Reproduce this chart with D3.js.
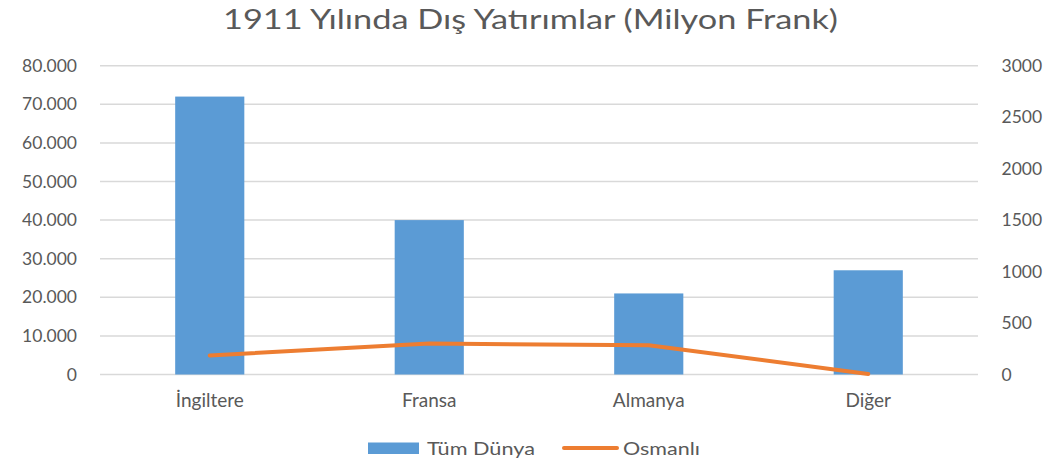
<!DOCTYPE html>
<html><head><meta charset="utf-8">
<script src="https://cdn.jsdelivr.net/npm/d3@7"></script>
<style>body{margin:0;background:#fff}svg{display:block}text{font-family:Lato,"Liberation Sans",sans-serif;fill:#595959}</style>
</head><body><svg id="c" width="1057" height="464"></svg>
<script>
const categories = ["İngiltere","Fransa","Almanya","Diğer"];
const tumDunya = [72000, 40000, 21000, 27000];
const osmanli = [185, 300, 285, 5];
const leftTicks = [0,10000,20000,30000,40000,50000,60000,70000,80000];
const rightTicks = [0,500,1000,1500,2000,2500,3000];
const title = "1911 Yılında Dış Yatırımlar (Milyon Frank)";
const seriesNames = ["Tüm Dünya","Osmanlı"];

const svg = d3.select("#c");
const L = 100, R = 978, T = 65.7, B = 374.5;
const x = d3.scaleBand().domain(categories).range([L,R]).padding(0);
const yL = d3.scaleLinear().domain([0,80000]).range([B,T]);
const yR = d3.scaleLinear().domain([0,3000]).range([B,T]);
const fmtL = d => d===0 ? "0" : d3.format(",")(d).replace(/,/g,".");
const fmtR = d3.format("d");

svg.append("text").attr("x",223).attr("y",28.5)
  .attr("textLength",615).attr("lengthAdjust","spacingAndGlyphs")
  .style("font-size","26px").text(title);

// grid
svg.append("g").selectAll("line").data(leftTicks).join("line")
  .attr("x1",L).attr("x2",R).attr("y1",d=>yL(d)).attr("y2",d=>yL(d))
  .attr("stroke","#d9d9d9").attr("stroke-width",1.5);

// axes
const gl = svg.append("g").attr("transform",`translate(${L},0)`)
  .call(d3.axisLeft(yL).tickValues(leftTicks).tickFormat(fmtL).tickSize(0).tickPadding(23));
gl.select(".domain").remove();
gl.selectAll("text").style("font-size","17.5px").attr("fill","#595959");

const gr = svg.append("g").attr("transform",`translate(${R},0)`)
  .call(d3.axisRight(yR).tickValues(rightTicks).tickFormat(fmtR).tickSize(0).tickPadding(23.5));
gr.select(".domain").remove();
gr.selectAll("text").style("font-size","17.5px").attr("fill","#595959");

// bars
const bw = x.bandwidth()*0.315;
svg.append("g").selectAll("rect").data(tumDunya).join("rect")
  .attr("x",(d,i)=>x(categories[i])+x.bandwidth()/2-bw/2)
  .attr("width",bw).attr("y",d=>yL(d)).attr("height",d=>B-yL(d))
  .attr("fill","#5b9bd5");

// line
const line = d3.line().x((d,i)=>x(categories[i])+x.bandwidth()/2).y(d=>yR(d));
svg.append("path").datum(osmanli).attr("d",line).attr("fill","none")
  .attr("stroke","#ed7d31").attr("stroke-width",4).attr("stroke-linecap","round").attr("stroke-linejoin","round");

// category labels
svg.append("g").selectAll("text").data(categories).join("text")
  .attr("x",d=>x(d)+x.bandwidth()/2).attr("y",407).attr("text-anchor","middle")
  .style("font-size","19px").text(d=>d);

// legend
const lg = svg.append("g");
lg.append("rect").attr("x",368).attr("y",442.5).attr("width",51).attr("height",11.5).attr("fill","#5b9bd5");
lg.append("text").attr("x",427).attr("y",455).attr("textLength",108).attr("lengthAdjust","spacingAndGlyphs")
  .style("font-size","17px").text(seriesNames[0]);
lg.append("line").attr("x1",564).attr("x2",617).attr("y1",448).attr("y2",448)
  .attr("stroke","#ed7d31").attr("stroke-width",4).attr("stroke-linecap","round");
lg.append("text").attr("x",623).attr("y",455).attr("textLength",77).attr("lengthAdjust","spacingAndGlyphs")
  .style("font-size","17px").text(seriesNames[1]);
</script></body></html>
